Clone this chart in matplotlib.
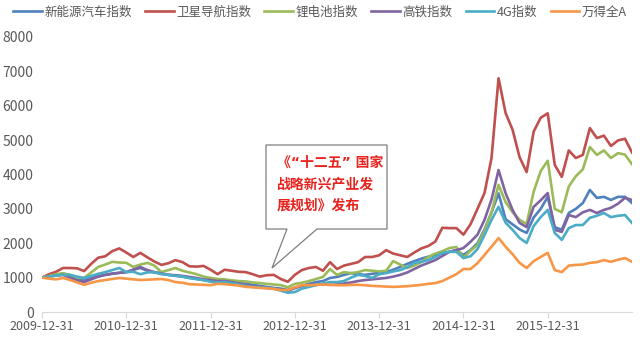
import matplotlib
matplotlib.use('Agg')
import matplotlib.pyplot as plt
from matplotlib.patches import Polygon
import numpy as np

plt.rcParams['font.family'] = ['Noto Sans CJK SC', 'DejaVu Sans']

# monthly index values, 2009-12 .. 2016-12 (base 1000)
nev = [
    1000, 1050, 1080, 1100, 1030, 960, 930, 980, 1040, 1080, 1110, 1140, 1160,
    1230, 1280, 1200, 1150, 1120, 1080, 1060, 1030, 990, 960, 930, 900,
    880, 900, 870, 850, 820, 790, 760, 730, 700, 680, 640, 700,
    760, 820, 870, 900, 990, 1020, 1080, 1130, 1100, 1080, 1110, 1140,
    1160, 1230, 1310, 1400, 1480, 1550, 1610, 1660, 1700, 1750, 1800, 1660,
    1800, 2000, 2400, 2900, 3450, 2700, 2550, 2400, 2300, 2750, 3000, 3350,
    2470, 2390, 2880, 3000, 3170, 3550, 3320, 3350, 3260, 3350, 3350, 3170,
]
satnav = [
    1000, 1100, 1170, 1280, 1280, 1270, 1190, 1400, 1580, 1620, 1770, 1850, 1730,
    1600, 1720, 1590, 1470, 1370, 1420, 1510, 1450, 1330, 1320, 1340, 1230,
    1100, 1230, 1200, 1170, 1160, 1100, 1030, 1070, 1080, 960, 880, 1080,
    1220, 1280, 1310, 1200, 1450, 1250, 1350, 1400, 1450, 1600, 1600, 1650,
    1800, 1700, 1650, 1600, 1730, 1850, 1920, 2050, 2450, 2440, 2440, 2250,
    2550, 3000, 3460, 4480, 6800, 5790, 5300, 4500, 4070, 5250, 5650, 5780,
    4280, 3930, 4700, 4480, 4570, 5350, 5060, 5130, 4830, 4990, 5040, 4640,
]
lithium = [
    1000, 1050, 1100, 1130, 1080, 1000, 990, 1150, 1310, 1380, 1460, 1440, 1430,
    1310, 1380, 1430, 1350, 1160, 1220, 1280, 1200, 1150, 1100, 1030, 990,
    960, 950, 920, 900, 890, 860, 840, 820, 800, 780, 720, 820,
    850, 900, 960, 1020, 1250, 1080, 1160, 1130, 1160, 1220, 1200, 1180,
    1200, 1480, 1380, 1280, 1350, 1450, 1600, 1700, 1770, 1860, 1890, 1570,
    1780, 1950, 2350, 2900, 3700, 3200, 2900, 2680, 2560, 3500, 4100, 4400,
    3000, 2900, 3650, 3950, 4150, 4800, 4570, 4700, 4480, 4620, 4580, 4300,
]
rail = [
    1000, 1030, 1060, 1080, 1000, 920, 870, 950, 1030, 1080, 1120, 1140, 1160,
    1230, 1310, 1220, 1160, 1120, 1080, 1070, 1050, 1020, 990, 950, 930,
    900, 900, 870, 830, 790, 750, 730, 700, 690, 650, 610, 700,
    760, 790, 790, 800, 790, 800, 830, 860, 900, 930, 950, 970,
    990, 1030, 1080, 1150, 1250, 1350, 1430, 1510, 1630, 1750, 1800, 1860,
    2040, 2250, 2680, 3270, 4130, 3460, 2970, 2590, 2470, 3060, 3250, 3460,
    2390, 2330, 2820, 2760, 2900, 2970, 2880, 2970, 3030, 3150, 3320, 3260,
]
g4 = [
    1000, 1030, 1060, 1080, 1080, 1030, 990, 1050, 1110, 1160, 1220, 1280, 1160,
    1170, 1100, 1150, 1160, 1100, 1080, 1050, 1030, 990, 960, 930, 880,
    860, 870, 840, 800, 760, 730, 720, 700, 680, 620, 560, 580,
    680, 730, 780, 830, 870, 870, 900, 1000, 1080, 1050, 990, 1100,
    1130, 1180, 1220, 1300, 1430, 1460, 1510, 1600, 1720, 1750, 1750, 1570,
    1620, 1830, 2240, 2680, 3060, 2600, 2390, 2150, 2010, 2500, 2760, 2970,
    2300, 2100, 2440, 2530, 2530, 2740, 2800, 2880, 2760, 2800, 2820, 2590,
]
wind_a = [
    1000, 970, 950, 990, 930, 860, 790, 850, 900, 930, 960, 990, 970,
    950, 930, 940, 950, 960, 930, 870, 850, 810, 800, 790, 780,
    820, 810, 790, 770, 730, 720, 700, 690, 670, 640, 640, 720,
    780, 780, 790, 800, 790, 780, 780, 790, 790, 780, 760, 750,
    740, 730, 740, 750, 770, 790, 820, 840, 900, 1000, 1100, 1250,
    1250, 1420, 1660, 1900, 2150, 1900, 1680, 1430, 1280, 1480, 1600, 1720,
    1220, 1160, 1350, 1370, 1380, 1430, 1450, 1510, 1460, 1520, 1570, 1460,
]

names = ['新能源汽车指数', '卫星导航指数', '锂电池指数', '高铁指数', '4G指数', '万得全A']
series = [nev, satnav, lithium, rail, g4, wind_a]
colors = ['#4F81BD', '#C0504D', '#9BBB59', '#8064A2', '#4BACC6', '#F79646']
year_labels = ['2009-12-31', '2010-12-31', '2011-12-31', '2012-12-31',
               '2013-12-31', '2014-12-31', '2015-12-31']

W, H = 640, 337
def px(x, y):
    return (x / W, 1 - y / H)

fig = plt.figure(figsize=(6.4, 3.37), dpi=100)
ax = fig.add_axes([42 / W, 1 - 312 / H, (632 - 42) / W, (312 - 37) / H])

x = np.arange(len(nev))
handles = []
for name, vals, c in zip(names, series, colors):
    h, = ax.plot(x, vals, color=c, lw=1.9, label=name, solid_joinstyle='round')
    handles.append(h)

ax.set_xlim(0, len(nev) - 1)
ax.set_ylim(0, 8000)
ax.set_yticks(np.arange(0, 8001, 1000))
ax.set_xticks(np.arange(0, 12 * len(year_labels), 12))
ax.set_xticklabels(year_labels)
for s in ['left', 'top', 'right']:
    ax.spines[s].set_visible(False)
ax.spines['bottom'].set_color('#D9D9D9')
ax.tick_params(axis='y', length=0, pad=6, labelsize=10, labelcolor='#595959')
ax.tick_params(axis='x', length=4, color='#D9D9D9', pad=2, labelsize=9, labelcolor='#595959')

leg = fig.legend(handles=handles, loc='center', bbox_to_anchor=(0.5, 1 - 12 / H), ncol=6,
                 frameon=False, fontsize=9, handlelength=2.3, handletextpad=0.2,
                 columnspacing=1.05)
for t in leg.get_texts():
    t.set_color('#595959')

# callout bubble
verts = [px(266, 145), px(387, 145), px(387, 229), px(317, 229),
         px(272, 268), px(287, 229), px(266, 229)]
ax.add_patch(Polygon(verts, closed=True, transform=fig.transFigure, facecolor='white',
                     edgecolor='#7F7F7F', lw=0.9, zorder=5, clip_on=False))
for txt, yy in [('《“十二五” 国家', 163), ('战略新兴产业发', 185), ('展规划》发布', 206)]:
    fig.text(*px(277, yy), txt, ha='left', va='center', fontsize=10,
             fontweight='bold', color='#E8231E', zorder=6,
             family=['DejaVu Sans', 'Noto Sans CJK SC'])

plt.savefig('out.png', dpi=100)
plt.close()
